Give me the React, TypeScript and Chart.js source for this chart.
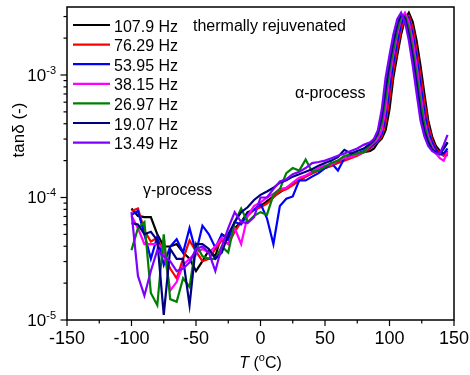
import React, { useEffect, useRef } from "react";
import { Chart, registerables } from "chart.js";

Chart.register(...registerables);

// Temperature (°C)
const temperatureC = [
  -100, -95, -90, -85, -80, -75, -70, -65, -60, -55,
  -50, -45, -40, -35, -30, -25, -20, -15, -10, -5,
  0, 5, 10, 15, 20, 25, 30, 35, 40, 45,
  50, 55, 60, 65, 70, 75, 80,
  85, 88, 91, 94, 97, 100, 103, 106, 109, 112, 115, 118, 121, 124, 127, 130, 133, 136, 139, 142, 145,
];

// tan δ values, in units of 1e-5
const tanD_107_9Hz = [
  8.13, 7.08, 6.92, 6.92, 5.01, 3.98, 3.98, 4.17, 3.55, 3.16,
  2.51, 3.02, 3.72, 3.31, 5.01, 4.68, 5.62, 6.31, 7.59, 7.94,
  8.51, 9.33, 10.2, 11.0, 12.0, 12.9, 13.8, 14.8, 15.8, 16.6,
  17.4, 18.2, 19.5, 20.4, 21.4, 22.4, 23.4,
  24.0, 25.1, 28.2, 30.2, 35.5, 52.5, 95.5, 145, 214, 285, 322, 272, 191, 120, 70.8, 42.7, 31.6, 26.3, 24.0, 22.9, 21.9,
];
const tanD_76_29Hz = [
  7.76, 8.13, 5.37, 4.37, 4.68, 3.55, 2.63, 2.19, 3.16, 4.47,
  3.63, 3.02, 3.16, 3.80, 4.47, 4.17, 5.25, 6.31, 7.08, 7.94,
  8.32, 8.91, 10.0, 11.2, 11.7, 12.6, 13.8, 14.8, 15.8, 16.6,
  17.4, 18.2, 19.1, 20.0, 20.9, 21.9, 23.4,
  25.1, 26.9, 28.8, 31.6, 40.7, 64.6, 110, 162, 234, 295, 305, 243, 162, 100, 60.3, 38.9, 29.5, 25.1, 22.9, 21.9, 24.0,
];
const tanD_53_95Hz = [
  7.24, 7.76, 5.01, 3.16, 4.79, 2.82, 3.98, 4.57, 3.55, 5.62,
  3.55, 5.89, 5.01, 3.89, 5.01, 4.47, 6.31, 6.03, 7.41, 7.94,
  8.91, 6.76, 4.17, 8.51, 9.77, 10.2, 13.8, 13.8, 14.8, 15.8,
  17.4, 19.1, 16.6, 20.9, 21.9, 22.9, 24.0,
  25.7, 27.5, 29.5, 33.1, 45.7, 77.6, 126, 186, 260, 312, 290, 214, 141, 85.1, 50.1, 34.7, 28.2, 24.5, 22.4, 22.9, 25.1,
];
const tanD_38_15Hz = [
  7.08, 5.62, 4.17, 4.17, 4.17, 3.80, 1.74, 2.04, 2.82, 3.16,
  3.55, 3.80, 3.55, 3.98, 4.68, 4.17, 5.62, 4.17, 7.08, 8.51,
  9.12, 10.0, 10.7, 11.7, 12.0, 13.2, 14.5, 15.1, 16.2, 17.4,
  18.2, 18.6, 20.0, 20.9, 21.4, 22.4, 23.4,
  26.3, 28.2, 30.2, 35.5, 52.5, 95.5, 145, 214, 285, 322, 272, 191, 120, 70.8, 42.7, 31.6, 26.3, 22.9, 20.9, 20.0, 23.4,
];
const tanD_26_97Hz = [
  3.72, 5.62, 6.31, 1.66, 1.32, 5.01, 1.48, 1.41, 2.19, 1.86,
  4.17, 3.31, 3.16, 3.16, 3.98, 3.55, 6.31, 8.13, 6.31, 7.08,
  7.59, 7.24, 10.5, 11.7, 15.8, 17.4, 16.6, 20.4, 16.2, 16.6,
  17.8, 19.1, 20.0, 21.9, 22.4, 22.9, 23.4,
  26.9, 28.8, 32.4, 40.7, 64.6, 110, 162, 234, 295, 305, 243, 162, 100, 60.3, 38.9, 29.5, 25.1, 23.4, 22.9, 25.1, 28.2,
];
const tanD_19_07Hz = [
  6.17, 6.03, 5.01, 5.25, 4.47, 1.10, 3.80, 3.16, 3.16, 1.32,
  4.17, 4.17, 3.80, 3.16, 3.55, 5.01, 6.31, 7.59, 8.32, 9.55,
  10.5, 11.2, 12.0, 13.2, 13.8, 14.8, 15.5, 16.2, 17.0, 18.2,
  19.1, 20.0, 21.4, 24.5, 22.9, 24.0, 25.1,
  27.5, 29.5, 33.9, 45.7, 77.6, 126, 186, 260, 312, 290, 214, 141, 85.1, 50.1, 34.7, 28.2, 24.5, 23.4, 22.9, 25.1, 28.2,
];
const tanD_13_49Hz = [
  7.59, 2.29, 1.58, 2.51, 3.72, 3.31, 3.02, 2.51, 2.63, 2.95,
  3.80, 3.98, 3.55, 2.51, 3.98, 5.62, 7.59, 6.31, 6.17, 6.92,
  10.0, 10.0, 11.7, 13.5, 14.1, 15.5, 16.2, 17.4, 19.1, 19.5,
  20.0, 20.9, 21.9, 22.9, 24.0, 25.1, 26.9,
  28.2, 30.2, 35.5, 52.5, 95.5, 145, 214, 285, 322, 272, 191, 120, 70.8, 42.7, 31.6, 26.3, 24.0, 22.9, 22.9, 26.9, 32.4,
];

const seriesLabels = ["107.9 Hz", "76.29 Hz", "53.95 Hz", "38.15 Hz", "26.97 Hz", "19.07 Hz", "13.49 Hz"];
const seriesValues = [tanD_107_9Hz, tanD_76_29Hz, tanD_53_95Hz, tanD_38_15Hz, tanD_26_97Hz, tanD_19_07Hz, tanD_13_49Hz];
const seriesColors = ["#000000", "#ff0000", "#0000ff", "#ff00ff", "#008000", "#000080", "#8000ff"];

const xMajorTicks = [-150, -100, -50, 0, 50, 100, 150];
const xMinorTicks = [-125, -75, -25, 25, 75, 125];
const yMajorExponents = [-5, -4, -3];

const annotations = [
  { text: "thermally rejuvenated", x: 193, y: 31 },
  { text: "α-process", x: 295, y: 98 },
  { text: "γ-process", x: 143, y: 195 },
];

const FONT = '"Liberation Sans", Arial, Helvetica, sans-serif';
const UNIT = 1e-5;

const overlayPlugin = {
  id: "overlay",
  afterDraw(chart: any) {
    const { ctx, chartArea: a, scales } = chart;
    const xs = scales.x;
    const ys = scales.y;
    ctx.save();
    ctx.strokeStyle = "#000";
    ctx.fillStyle = "#000";

    // frame
    ctx.lineWidth = 1.5;
    ctx.strokeRect(a.left, a.top, a.right - a.left, a.bottom - a.top);

    const seg = (x1: number, y1: number, x2: number, y2: number) => {
      ctx.beginPath();
      ctx.moveTo(x1, y1);
      ctx.lineTo(x2, y2);
      ctx.stroke();
    };

    // x ticks
    ctx.lineWidth = 1.2;
    for (const v of xMinorTicks) {
      const px = xs.getPixelForValue(v);
      seg(px, a.bottom, px, a.bottom + 3.5);
    }
    ctx.font = `18px ${FONT}`;
    ctx.textAlign = "center";
    ctx.textBaseline = "alphabetic";
    for (const v of xMajorTicks) {
      const px = xs.getPixelForValue(v);
      seg(px, a.bottom, px, a.bottom + 6);
      ctx.fillText(String(v), px, a.bottom + 24);
    }

    // y ticks
    const yMin = ys.min;
    const yMax = ys.max;
    for (let e = -6; e <= -2; e++) {
      for (let m = 2; m <= 9; m++) {
        const v = m * Math.pow(10, e);
        if (v <= yMin || v >= yMax) continue;
        const py = ys.getPixelForValue(v);
        seg(a.left, py, a.left - 3.5, py);
      }
    }
    for (const e of yMajorExponents) {
      const py = ys.getPixelForValue(Math.pow(10, e));
      seg(a.left, py, a.left - 6.5, py);
      const sup = String(e);
      ctx.font = `11px ${FONT}`;
      const wSup = ctx.measureText(sup).width;
      ctx.font = `17px ${FONT}`;
      const wBase = ctx.measureText("10").width;
      const right = a.left - 11;
      ctx.textAlign = "left";
      ctx.fillText("10", right - wSup - wBase, py + 6);
      ctx.font = `11px ${FONT}`;
      ctx.fillText(sup, right - wSup, py - 1);
    }

    // x title: T (°C)
    const titleY = 368;
    ctx.textAlign = "left";
    const parts = [
      { t: "T", f: `italic 16px ${FONT}`, dy: 0 },
      { t: " (", f: `16px ${FONT}`, dy: 0 },
      { t: "o", f: `11px ${FONT}`, dy: -7 },
      { t: "C)", f: `16px ${FONT}`, dy: 0 },
    ];
    let total = 0;
    for (const p of parts) {
      ctx.font = p.f;
      total += ctx.measureText(p.t).width;
    }
    let cx = xs.getPixelForValue(0) - total / 2;
    for (const p of parts) {
      ctx.font = p.f;
      ctx.fillText(p.t, cx, titleY + p.dy);
      cx += ctx.measureText(p.t).width;
    }

    // y title
    ctx.save();
    ctx.translate(23.5, 130);
    ctx.rotate(-Math.PI / 2);
    ctx.textAlign = "center";
    ctx.font = `17px ${FONT}`;
    ctx.fillText("tanδ (-)", 0, 0);
    ctx.restore();

    // legend
    ctx.font = `16px ${FONT}`;
    ctx.textAlign = "left";
    chart.data.datasets.forEach((ds: any, i: number) => {
      const ly = 25 + i * 19.6;
      ctx.strokeStyle = ds.borderColor;
      ctx.lineWidth = 2.2;
      seg(73, ly, 110, ly);
      ctx.fillStyle = "#000";
      ctx.fillText(ds.label, 114, ly + 6.5);
    });

    // annotations
    ctx.fillStyle = "#000";
    for (const an of annotations) ctx.fillText(an.text, an.x, an.y);

    ctx.restore();
  },
};

export default function App() {
  const canvasRef = useRef<HTMLCanvasElement | null>(null);

  useEffect(() => {
    if (!canvasRef.current) return;
    const datasets = seriesValues.map((vals, i) => ({
      label: seriesLabels[i],
      data: temperatureC.map((t, j) => ({ x: t, y: vals[j] * UNIT })),
      borderColor: seriesColors[i],
      backgroundColor: seriesColors[i],
      borderWidth: 2.2,
      pointRadius: 0,
      tension: 0,
      fill: false,
      order: seriesValues.length - 1 - i,
    }));
    const chart = new Chart(canvasRef.current, {
      type: "line",
      data: { datasets },
      options: {
        animation: false,
        responsive: false,
        devicePixelRatio: 1,
        layout: { padding: { left: 67, right: 16, top: 7, bottom: 55 } },
        scales: {
          x: { type: "linear", min: -150, max: 150, display: false },
          y: { type: "logarithmic", min: 1e-5, max: 3.59e-3, display: false },
        },
        plugins: { legend: { display: false }, tooltip: { enabled: false } },
      },
      plugins: [overlayPlugin],
    } as any);
    return () => chart.destroy();
  }, []);

  return (
    <div style={{ position: "fixed", left: 0, top: 0, width: 470, height: 375, background: "#fff" }}>
      <canvas ref={canvasRef} width={470} height={375} style={{ display: "block" }} />
    </div>
  );
}
